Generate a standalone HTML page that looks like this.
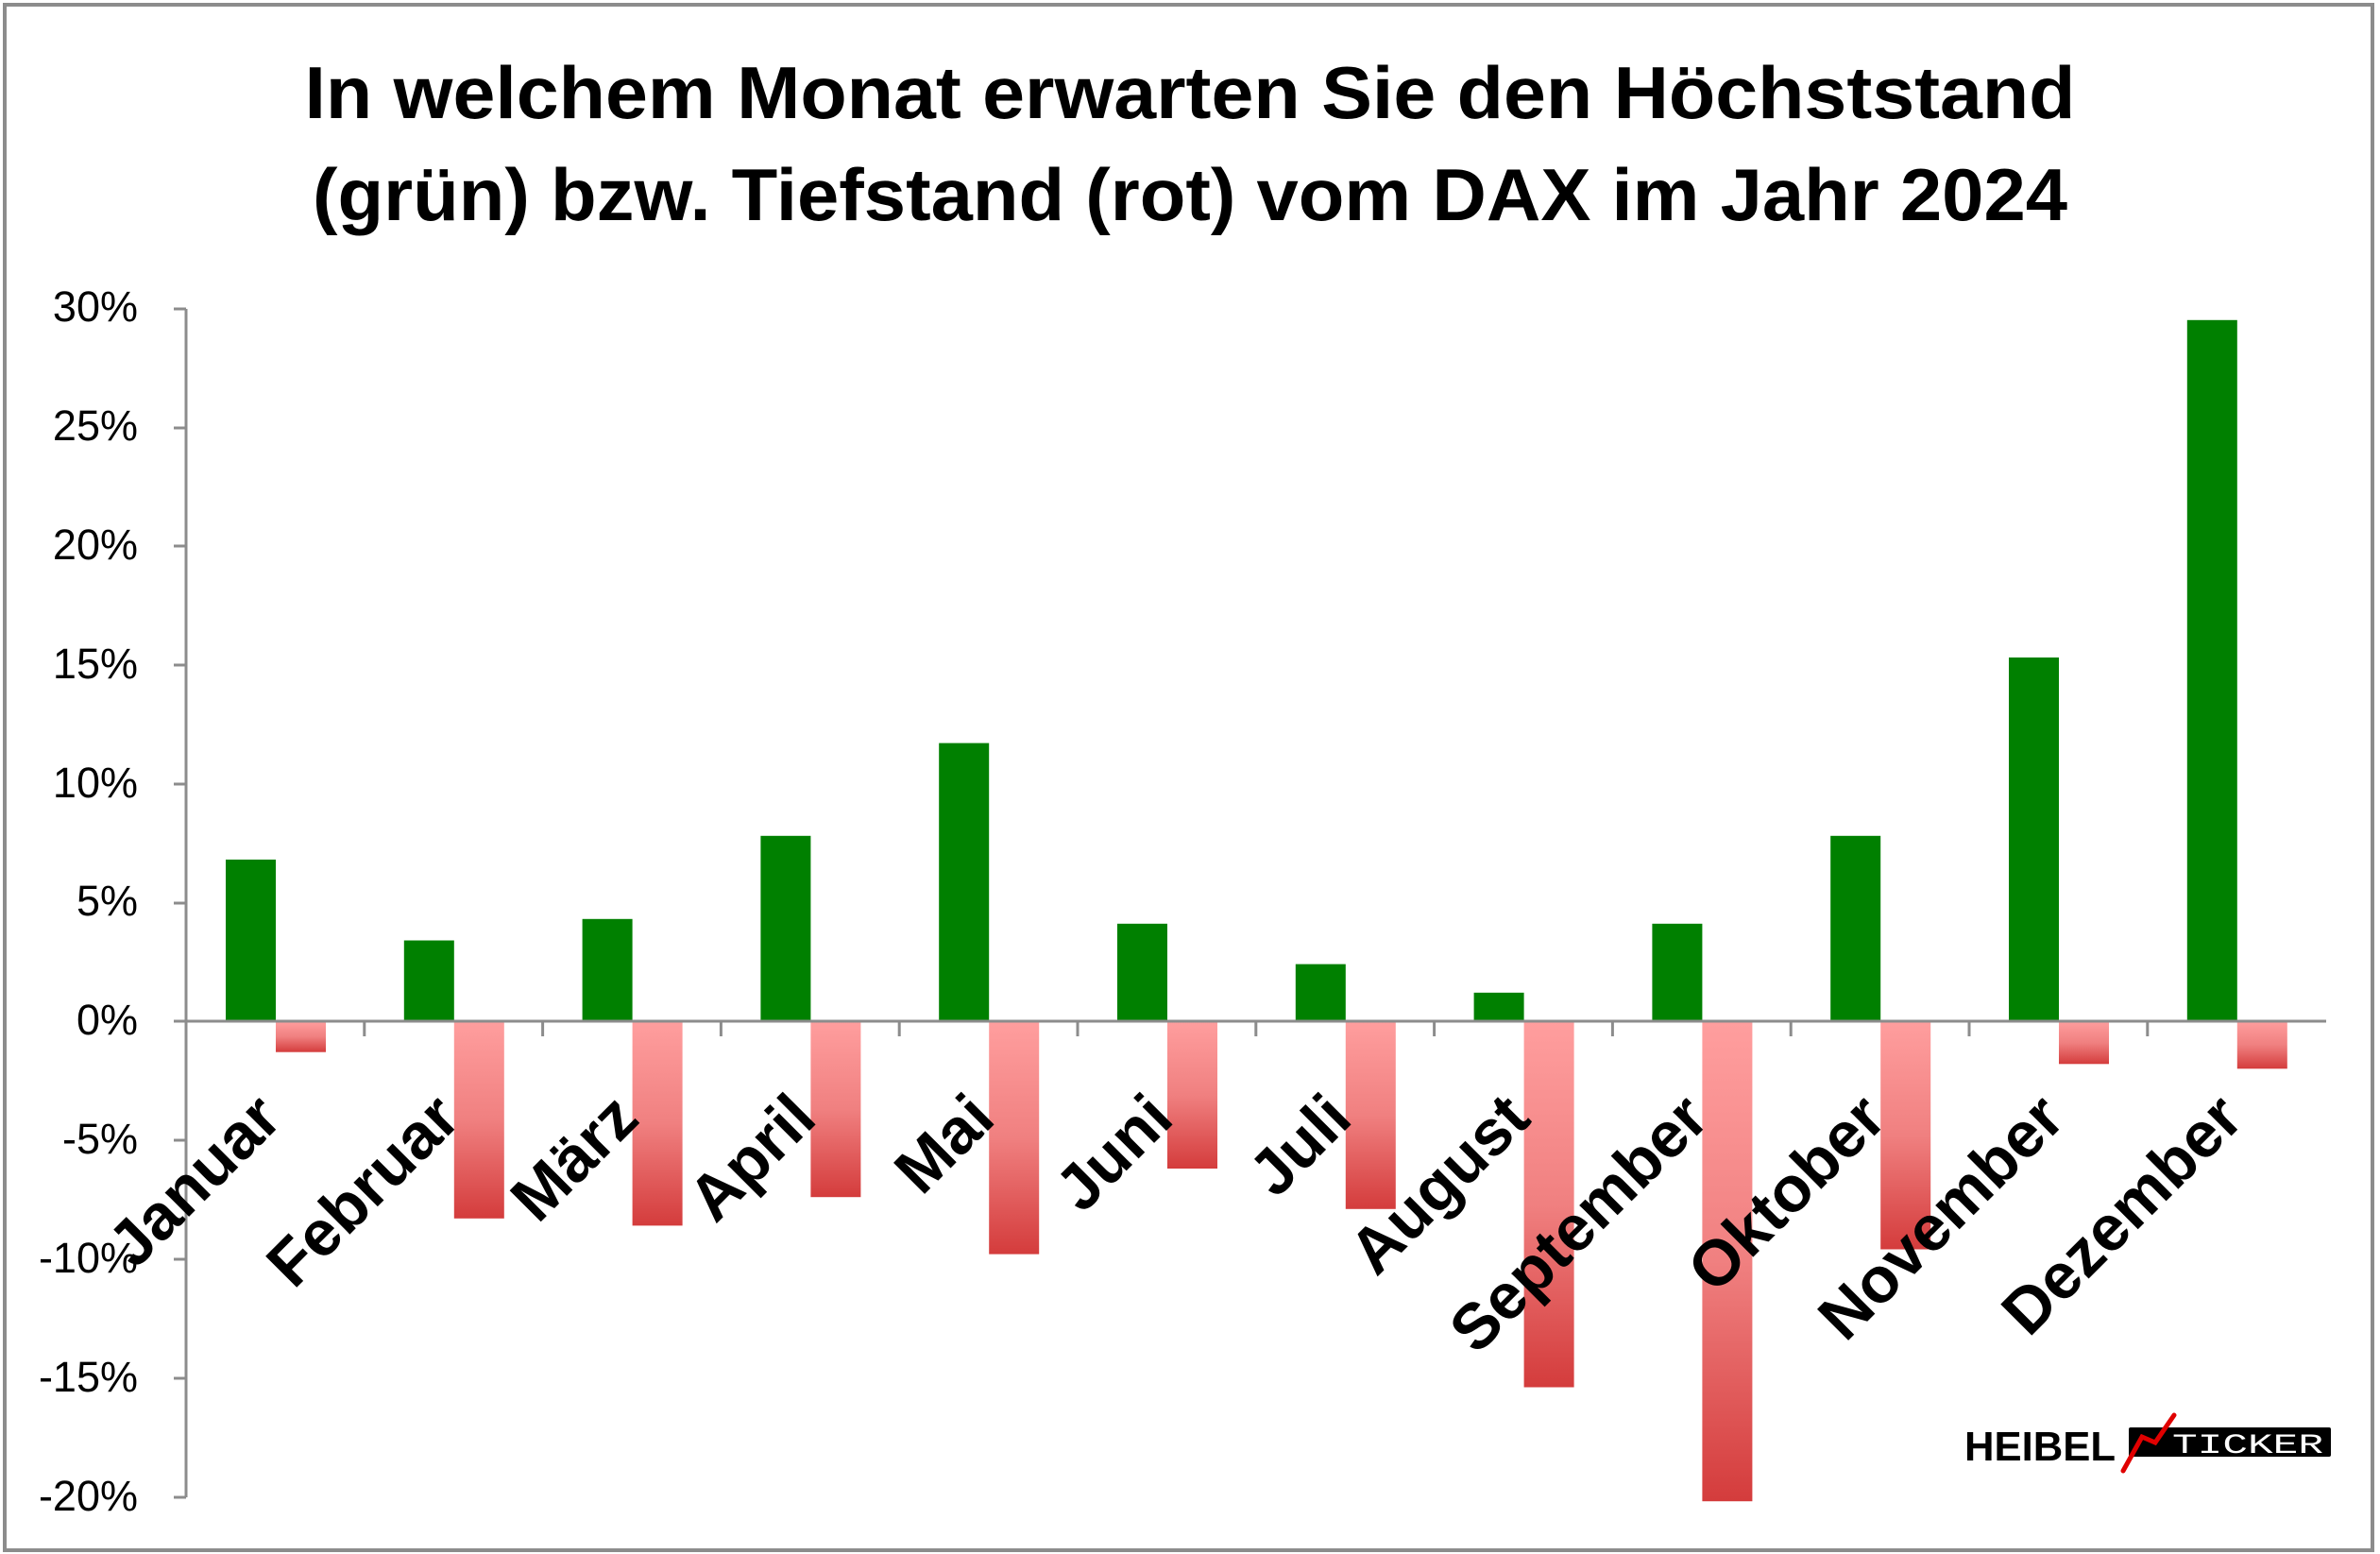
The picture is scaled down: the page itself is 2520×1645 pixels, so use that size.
<!DOCTYPE html>
<html><head><meta charset="utf-8"><style>html,body{margin:0;padding:0;background:#fff}svg{display:block}</style></head>
<body>
<svg width="2520" height="1645" viewBox="0 0 2520 1645" xmlns="http://www.w3.org/2000/svg" font-family="Liberation Sans, sans-serif">
<defs>
<linearGradient id="rg" x1="0" y1="0" x2="0" y2="1">
<stop offset="0" stop-color="#ff9e9e"/><stop offset="0.5" stop-color="#f08080"/><stop offset="1" stop-color="#d43c3c"/>
</linearGradient>
</defs>
<rect x="5" y="5" width="2507" height="1636" fill="#fff" stroke="#8c8c8c" stroke-width="4"/>
<text x="1260" y="125" font-size="78" font-weight="bold" text-anchor="middle" textLength="1875" lengthAdjust="spacingAndGlyphs">In welchem Monat erwarten Sie den Höchststand</text>
<text x="1260" y="233" font-size="78" font-weight="bold" text-anchor="middle" textLength="1858" lengthAdjust="spacingAndGlyphs">(grün) bzw. Tiefstand (rot) vom DAX im Jahr 2024</text>
<g font-size="45" text-anchor="end" fill="#000">
<text x="146" y="340">30%</text>
<text x="146" y="466">25%</text>
<text x="146" y="592">20%</text>
<text x="146" y="718">15%</text>
<text x="146" y="844">10%</text>
<text x="146" y="969">5%</text>
<text x="146" y="1095">0%</text>
<text x="146" y="1221">-5%</text>
<text x="146" y="1347">-10%</text>
<text x="146" y="1473">-15%</text>
<text x="146" y="1599">-20%</text>
</g>
<g stroke="#8c8c8c" stroke-width="3">
<line x1="197" y1="327" x2="197" y2="1585"/>
<line x1="184" y1="327" x2="197" y2="327"/><line x1="184" y1="453" x2="197" y2="453"/>
<line x1="184" y1="578" x2="197" y2="578"/><line x1="184" y1="704" x2="197" y2="704"/>
<line x1="184" y1="830" x2="197" y2="830"/><line x1="184" y1="956" x2="197" y2="956"/>
<line x1="184" y1="1081" x2="197" y2="1081"/><line x1="184" y1="1207" x2="197" y2="1207"/>
<line x1="184" y1="1333" x2="197" y2="1333"/><line x1="184" y1="1459" x2="197" y2="1459"/>
<line x1="184" y1="1585" x2="197" y2="1585"/>
</g>
<g fill="#008000">
<rect x="239" y="909.9" width="53" height="171.1"/>
<rect x="427.8" y="995.5" width="53" height="85.5"/>
<rect x="616.6" y="972.8" width="53" height="108.2"/>
<rect x="805.4" y="884.8" width="53" height="196.2"/>
<rect x="994.2" y="786.6" width="53" height="294.4"/>
<rect x="1183" y="977.8" width="53" height="103.2"/>
<rect x="1371.8" y="1020.6" width="53" height="60.4"/>
<rect x="1560.6" y="1050.8" width="53" height="30.2"/>
<rect x="1749.4" y="977.8" width="53" height="103.2"/>
<rect x="1938.2" y="884.8" width="53" height="196.2"/>
<rect x="2127" y="696" width="53" height="385"/>
<rect x="2315.8" y="338.8" width="53" height="742.2"/>
</g>
<g fill="url(#rg)">
<rect x="292" y="1081" width="53" height="32.7"/>
<rect x="480.8" y="1081" width="53" height="208.8"/>
<rect x="669.6" y="1081" width="53" height="216.4"/>
<rect x="858.4" y="1081" width="53" height="186.2"/>
<rect x="1047.2" y="1081" width="53" height="246.6"/>
<rect x="1236" y="1081" width="53" height="156"/>
<rect x="1424.8" y="1081" width="53" height="198.8"/>
<rect x="1613.6" y="1081" width="53" height="387.5"/>
<rect x="1802.4" y="1081" width="53" height="508.2"/>
<rect x="1991.2" y="1081" width="53" height="241.5"/>
<rect x="2180" y="1081" width="53" height="45.3"/>
<rect x="2368.8" y="1081" width="53" height="50.3"/>
</g>
<g stroke="#8c8c8c" stroke-width="3">
<line x1="197" y1="1081" x2="2463" y2="1081"/>
<line x1="385.8" y1="1081" x2="385.8" y2="1097"/>
<line x1="574.6" y1="1081" x2="574.6" y2="1097"/>
<line x1="763.4" y1="1081" x2="763.4" y2="1097"/>
<line x1="952.2" y1="1081" x2="952.2" y2="1097"/>
<line x1="1141" y1="1081" x2="1141" y2="1097"/>
<line x1="1329.8" y1="1081" x2="1329.8" y2="1097"/>
<line x1="1518.6" y1="1081" x2="1518.6" y2="1097"/>
<line x1="1707.4" y1="1081" x2="1707.4" y2="1097"/>
<line x1="1896.2" y1="1081" x2="1896.2" y2="1097"/>
<line x1="2085" y1="1081" x2="2085" y2="1097"/>
<line x1="2273.8" y1="1081" x2="2273.8" y2="1097"/>
</g>
<g fill="#000" font-size="68" font-weight="bold" text-anchor="end">
<text x="301" y="1187" transform="rotate(-45 301 1187)">Januar</text>
<text x="490" y="1187" transform="rotate(-45 490 1187)">Februar</text>
<text x="679" y="1187" transform="rotate(-45 679 1187)">März</text>
<text x="867" y="1187" transform="rotate(-45 867 1187)">April</text>
<text x="1056" y="1187" transform="rotate(-45 1056 1187)">Mai</text>
<text x="1245" y="1187" transform="rotate(-45 1245 1187)">Juni</text>
<text x="1434" y="1187" transform="rotate(-45 1434 1187)">Juli</text>
<text x="1623" y="1187" transform="rotate(-45 1623 1187)">August</text>
<text x="1812" y="1187" transform="rotate(-45 1812 1187)">September</text>
<text x="2000" y="1187" transform="rotate(-45 2000 1187)">Oktober</text>
<text x="2189" y="1187" transform="rotate(-45 2189 1187)">November</text>
<text x="2378" y="1187" transform="rotate(-45 2378 1187)">Dezember</text>
</g>
<g>
<text x="2080" y="1546" font-size="44" font-weight="bold" textLength="160" lengthAdjust="spacingAndGlyphs">HEIBEL</text>
<rect x="2254" y="1511" width="214" height="31" fill="#000" rx="2"/>
<text x="2300" y="1538" font-size="30" fill="#fff" font-family="Liberation Mono, monospace" textLength="160" lengthAdjust="spacingAndGlyphs">TICKER</text>
<polyline points="2248,1557 2268,1521 2282,1527 2302,1498" fill="none" stroke="#e00000" stroke-width="5" stroke-linecap="round"/>
</g>
</svg>
</body></html>
